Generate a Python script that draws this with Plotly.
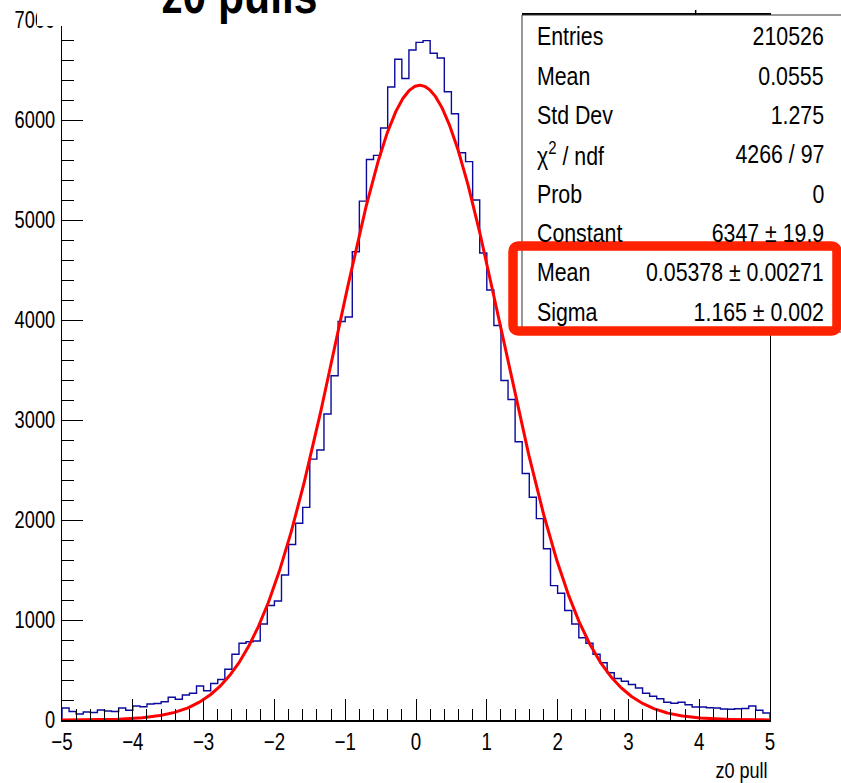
import math
import plotly.graph_objects as go

# ---------------- data ----------------
bin_counts = [
    120, 85, 60, 80, 75, 100, 90, 85, 120, 97,
    140, 133, 160, 165, 183, 227, 207, 250, 267, 340,
    293, 365, 405, 508, 657, 767, 783, 790, 960, 1145,
    1190, 1450, 1755, 1968, 2126, 2609, 2700, 3060, 3442, 3985,
    4030, 4682, 5189, 5605, 5646, 5920, 6330, 6608, 6415, 6700,
    6776, 6794, 6668, 6620, 6283, 6063, 5673, 5584, 5200, 4670,
    4300, 3945, 3395, 3205, 2783, 2465, 2228, 2014, 1712, 1344,
    1268, 1095, 960, 823, 767, 657, 572, 473, 415, 388,
    355, 320, 267, 238, 213, 177, 167, 177, 153, 130,
    130, 122, 120, 110, 107, 112, 115, 140, 97, 70,
]
x_min, x_max = -5.0, 5.0
y_max = 7050

fit_constant = 6347.0
fit_mean = 0.05378
fit_sigma = 1.165

stat_labels = ["Entries", "Mean", "Std Dev", "χ<sup>2</sup> / ndf", "Prob",
               "Constant", "Mean", "Sigma"]
stat_values = ["210526", "0.0555", "1.275", "4266 / 97", "0",
               "6347 ± 19.9", "0.05378 ± 0.00271", "1.165 ± 0.002"]

x_tick_vals = [-5, -4, -3, -2, -1, 0, 1, 2, 3, 4, 5]
x_tick_text = ["−5", "−4", "−3", "−2", "−1", "0", "1", "2", "3", "4", "5"]
y_tick_vals = [0, 1000, 2000, 3000, 4000, 5000, 6000, 7000]
y_tick_text = ["0", "1000", "2000", "3000", "4000", "5000", "6000", "7000"]

title_text = "z0 pulls"
x_title = "z0 pull"

# ---------------- geometry helpers ----------------
W, H = 841, 783
PL, PR, PT, PB = 62, 770, 15, 720


def px(xp):
    return (xp - PL) / (PR - PL)


def py(yp):
    return (PB - yp) / (PB - PT)


FONT = "Liberation Sans, Arial, Helvetica, sans-serif"

# histogram outline (step)
n_bins = len(bin_counts)
bw = (x_max - x_min) / n_bins
edges = [x_min + i * bw for i in range(n_bins + 1)]
hx = [edges[0]] + edges[:n_bins] + [edges[-1], edges[-1]]
hy = [0] + bin_counts + [bin_counts[-1], 0]

# fit curve from the displayed fit parameters
fx = [x_min + i * (x_max - x_min) / 1000 for i in range(1001)]
fy = [fit_constant * math.exp(-0.5 * ((v - fit_mean) / fit_sigma) ** 2) for v in fx]

fig = go.Figure()
fig.add_trace(go.Scatter(x=hx, y=hy, mode="lines", line=dict(color="#0a0a9c", width=1.4, shape="hv"),
                         hoverinfo="skip", showlegend=False))
fig.add_trace(go.Scatter(x=fx, y=fy, mode="lines", line=dict(color="#ff0000", width=3),
                         hoverinfo="skip", showlegend=False))

fig.update_layout(
    width=W, height=H,
    margin=dict(l=PL, r=W - PR, t=PT, b=H - PB, pad=0, autoexpand=False),
    paper_bgcolor="white", plot_bgcolor="white",
    showlegend=False,
    xaxis=dict(range=[x_min, x_max], showgrid=False, zeroline=False, automargin=False,
               showline=True, linecolor="black", linewidth=1.6, mirror=True,
               ticks="inside", ticklen=21, tickcolor="black", tickwidth=1,
               tickvals=x_tick_vals, ticktext=x_tick_text,
               ticklabelstandoff=-1,
               tickfont=dict(family=FONT, size=24, color="black"),
               minor=dict(dtick=0.2, ticks="inside", ticklen=11, tickcolor="black", tickwidth=1)),
    yaxis=dict(range=[0, y_max], showgrid=False, zeroline=False, automargin=False,
               showline=True, linecolor="black", linewidth=1, mirror=True,
               ticks="inside", ticklen=21, tickcolor="black", tickwidth=1,
               tickvals=y_tick_vals, ticktext=y_tick_text,
               ticklabelstandoff=1,
               tickfont=dict(family=FONT, size=24, color="black"),
               minor=dict(dtick=200, ticks="inside", ticklen=12, tickcolor="black", tickwidth=1)),
)


def rounded_rect(x0, y0, x1, y1, r):
    pts = [
        f"M {px(x0 + r)} {py(y0)}", f"L {px(x1 - r)} {py(y0)}", f"Q {px(x1)} {py(y0)} {px(x1)} {py(y0 + r)}",
        f"L {px(x1)} {py(y1 - r)}", f"Q {px(x1)} {py(y1)} {px(x1 - r)} {py(y1)}",
        f"L {px(x0 + r)} {py(y1)}", f"Q {px(x0)} {py(y1)} {px(x0)} {py(y1 - r)}",
        f"L {px(x0)} {py(y0 + r)}", f"Q {px(x0)} {py(y0)} {px(x0 + r)} {py(y0)}", "Z",
    ]
    return " ".join(pts)


shapes = []
# title box (white, covers top of frame and part of the 7000 label)
shapes.append(dict(type="rect", xref="paper", yref="paper", x0=px(37), x1=px(522), y0=py(26), y1=py(-20),
                   fillcolor="white", line=dict(width=0), layer="above"))
# stats box
shapes.append(dict(type="rect", xref="paper", yref="paper", x0=px(522), x1=px(870), y0=py(332), y1=py(15),
                   fillcolor="white", line=dict(color="#333333", width=1), layer="above"))
# small tick above the stats box
shapes.append(dict(type="line", xref="x", yref="paper", x0=3.95, x1=3.95, y0=py(15), y1=py(10),
                   line=dict(color="black", width=1.5), layer="above"))
# red highlight box
shapes.append(dict(type="path", xref="paper", yref="paper", path=rounded_rect(513, 246, 837, 331, 6),
                   fillcolor="rgba(0,0,0,0)", line=dict(color="#ff2200", width=9.5), layer="above"))
fig.update_layout(shapes=shapes)

ann = []
row0, dy = 36.5, 39.3
for i, (lab, val) in enumerate(zip(stat_labels, stat_values)):
    yc = row0 + i * dy
    ann.append(dict(xref="paper", yref="paper", x=px(535), y=py(yc), xanchor="left", yanchor="middle",
                    text=lab, showarrow=False, font=dict(family=FONT, size=26, color="black")))
    ann.append(dict(xref="paper", yref="paper", x=px(826), y=py(yc), xanchor="right", yanchor="middle",
                    text=val, showarrow=False, font=dict(family=FONT, size=26, color="black")))
# title (cut by the top of the page)
ann.append(dict(xref="paper", yref="paper", x=px(239), y=py(26), xanchor="center", yanchor="bottom",
                text="<b>" + title_text + "</b>", showarrow=False,
                font=dict(family=FONT, size=52, color="black")))
# x axis title
ann.append(dict(xref="paper", yref="paper", x=1.0, y=py(770), xanchor="right", yanchor="middle",
                text=x_title, showarrow=False, font=dict(family=FONT, size=22, color="black")))
fig.update_layout(annotations=ann)

# The original uses a condensed Helvetica: squeeze the glyphs horizontally
# (text stays real text) while keeping each text's anchor point where it was.
post = """
var gd = document.getElementById('{plot_id}');
function sq(t, k, mode){
  var b0 = t.getBBox();
  var L = t.getComputedTextLength();
  if(!(L > 0)) return 0;
  t.setAttribute('textLength', (L * k).toFixed(2));
  t.setAttribute('lengthAdjust', 'spacingAndGlyphs');
  var b1 = t.getBBox();
  if(mode === 'l') return b0.x - b1.x;
  if(mode === 'r') return (b0.x + b0.width) - (b1.x + b1.width);
  return (b0.x + b0.width / 2) - (b1.x + b1.width / 2);
}
function shiftText(t, dx){
  var x = parseFloat(t.getAttribute('x') || '0');
  t.setAttribute('x', (x + dx).toFixed(2));
}
gd.querySelectorAll('g.xtick text').forEach(function(t){ shiftText(t, sq(t, 0.78, 'c')); });
gd.querySelectorAll('g.ytick text').forEach(function(t){ shiftText(t, sq(t, 0.76, 'r')); });
gd.querySelectorAll('g.annotation').forEach(function(g){
  var idx = +g.getAttribute('data-index');
  var a = gd.layout.annotations[idx];
  var t = g.querySelector('text');
  if(!t || !a) return;
  var mode = a.xanchor === 'right' ? 'r' : (a.xanchor === 'left' ? 'l' : 'c');
  var b0 = t.getBBox();
  var L = t.getComputedTextLength();
  if(!(L > 0)) return;
  t.setAttribute('textLength', (L * 0.82).toFixed(2));
  t.setAttribute('lengthAdjust', 'spacingAndGlyphs');
  var b1 = t.getBBox();
  var dx;
  if(mode === 'l') dx = b0.x - b1.x;
  else if(mode === 'r') dx = (b0.x + b0.width) - (b1.x + b1.width);
  else dx = (b0.x + b0.width / 2) - (b1.x + b1.width / 2);
  var tr = t.getAttribute('transform') || '';
  t.setAttribute('transform', tr + ' translate(' + dx.toFixed(2) + ',0)');
  var bg = g.querySelector('rect.bg');
  if(bg){
    bg.setAttribute('width', b1.width.toFixed(2));
    bg.setAttribute('x', (b1.x + dx).toFixed(2));
  }
});
"""

fig.write_html("out.html", post_script=post)
